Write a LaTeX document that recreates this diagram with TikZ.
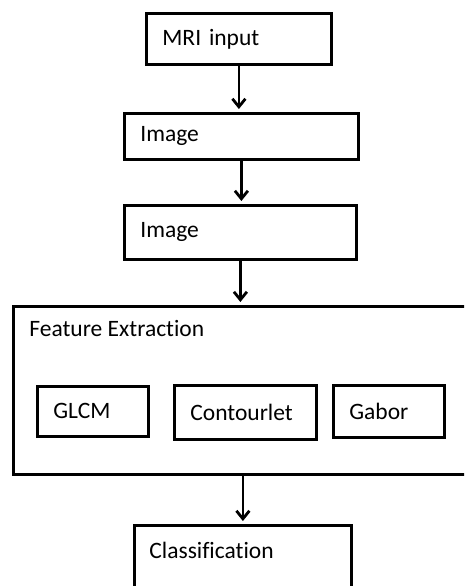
\documentclass[tikz,border=0pt]{standalone}
\usepackage{fontspec}
\setmainfont[Ligatures=NoCommon]{Carlito}
\usetikzlibrary{arrows.meta}

\begin{document}
\begin{tikzpicture}[x=1pt, y=-1pt, ->, >={Straight Barb[width=13pt, length=8pt]},
    shorten >=3pt, line width=2.8pt, font=\fontsize{23.5}{28}\selectfont]
  \tikzstyle{stage} = [draw, rectangle, anchor=north west, inner xsep=16pt, align=left]
  \tikzstyle{title} = [anchor=north west, inner xsep=16pt, inner ysep=14pt]
  \clip (0,0) rectangle (464,586);
  \node [stage, text width=153pt, minimum height=51pt] (mri) at (145,12) {MRI input};
  \node [stage, text width=202pt, minimum height=46pt] (img1) at (123,112) {Image};
  \node [stage, text width=200pt, minimum height=54pt] (img2) at (123,204) {Image};
  \node [stage, minimum width=470pt, minimum height=168pt,
    label={[title]north west:Feature Extraction}] (feat) at (12,305) {};
  \node [stage, text width=79pt, minimum height=50pt] (glcm) at (36,385) {GLCM};
  \node [stage, text width=110pt, minimum height=54pt] (contour) at (173,384) {Contourlet};
  \node [stage, text width=79pt, minimum height=52pt] (gabor) at (332,384) {Gabor};
  \node [stage, minimum width=217pt, minimum height=100pt,
    label={[title, inner xsep=15pt, inner ysep=17pt]north west:Classification}] (class) at (133,524) {};
  \draw (mri.south) -- (mri.south |- img1.north);
  \draw (img1.south) -- (img1.south |- img2.north);
  \draw (img2.south) -- (img2.south |- feat.north);
  \draw (class.north |- feat.south) -- (class.north);
\end{tikzpicture}
\end{document}
